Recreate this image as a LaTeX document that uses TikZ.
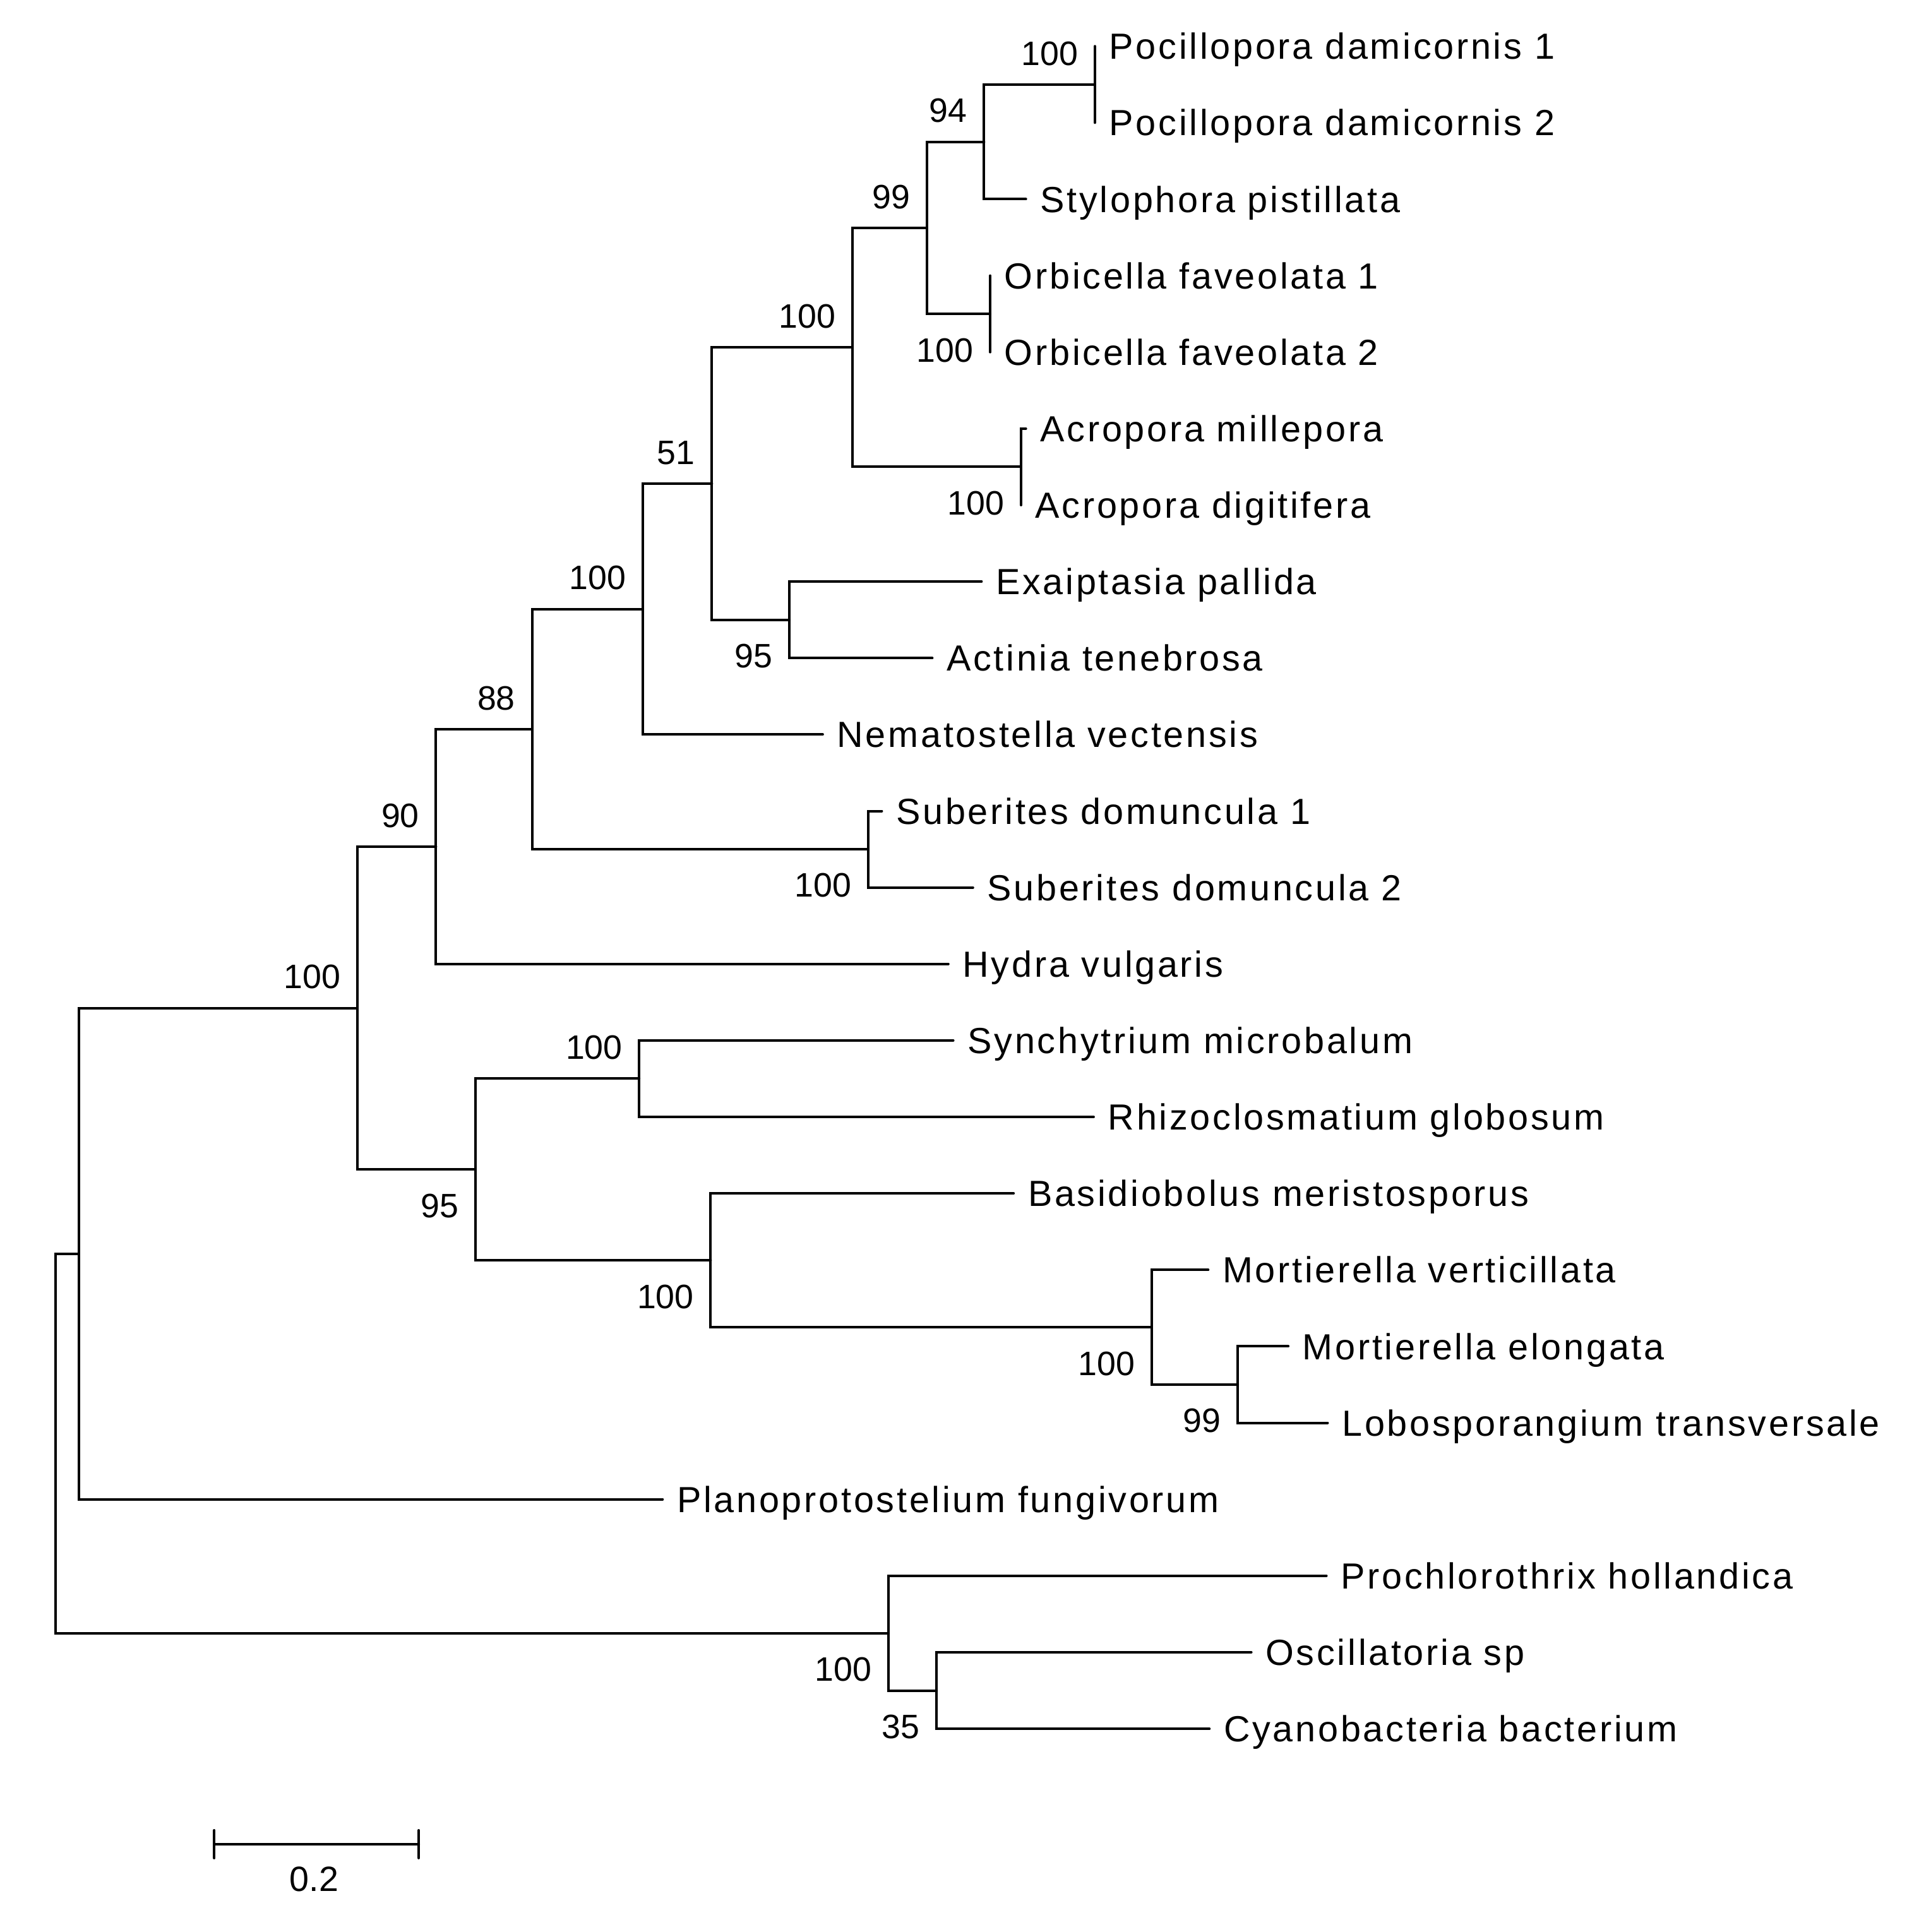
\documentclass[tikz,border=0pt]{standalone}
\usepackage{fontspec}
\setmainfont{Liberation Sans}
\newfontfamily\leaffont{Liberation Sans}[LetterSpace=6.5]

\begin{document}
\begin{tikzpicture}[x=0.01cm,y=-0.6207cm,
  branch/.style={line width=0.58pt,line cap=round},
  leaf/.style={anchor=west,inner xsep=0.11cm,inner ysep=0pt,text height=6pt,text depth=0pt,font=\leaffont\fontsize{8.39}{10}\selectfont},
  bootlab/.style={inner sep=0pt,text height=5.6pt,text depth=0pt,font=\fontsize{7.82}{9}\selectfont},
  bootup/.style={bootlab,anchor=south east,xshift=-0.13cm,yshift=0.15cm},
  bootdown/.style={bootlab,anchor=north east,xshift=-0.13cm,yshift=-0.185cm}]
\useasboundingbox (0,-0.6042) rectangle (1558,24.658);
\node[leaf] (pd1) at (889,0) {Pocillopora damicornis 1};
\node[leaf] (pd2) at (889,1) {Pocillopora damicornis 2};
\node[leaf] (sp) at (833,2) {Stylophora pistillata};
\node[leaf] (of1) at (804,3) {Orbicella faveolata 1};
\node[leaf] (of2) at (804,4) {Orbicella faveolata 2};
\node[leaf] (am) at (833,5) {Acropora millepora};
\node[leaf] (ad) at (829,6) {Acropora digitifera};
\node[leaf] (ep) at (797,7) {Exaiptasia pallida};
\node[leaf] (actin) at (757,8) {Actinia tenebrosa};
\node[leaf] (nv) at (668,9) {Nematostella vectensis};
\node[leaf] (sd1) at (716,10) {Suberites domuncula 1};
\node[leaf] (sd2) at (790,11) {Suberites domuncula 2};
\node[leaf] (hv) at (770,12) {Hydra vulgaris};
\node[leaf] (sm) at (774,13) {Synchytrium microbalum};
\node[leaf] (rg) at (888,14) {Rhizoclosmatium globosum};
\node[leaf] (bm) at (823,15) {Basidiobolus meristosporus};
\node[leaf] (mv) at (981,16) {Mortierella verticillata};
\node[leaf] (mel) at (1046,17) {Mortierella elongata};
\node[leaf] (lt) at (1078,18) {Lobosporangium transversale};
\node[leaf] (pf) at (538,19) {Planoprotostelium fungivorum};
\node[leaf] (ph) at (1077,20) {Prochlorothrix hollandica};
\node[leaf] (os) at (1016,21) {Oscillatoria sp};
\node[leaf] (cb) at (982,22) {Cyanobacteria bacterium};
\coordinate (poc) at (889,0.5);
\coordinate (n94) at (799,1.25);
\coordinate (orb) at (804,3.5);
\coordinate (n99) at (752.5,2.375);
\coordinate (acr) at (829,5.5);
\coordinate (cor) at (692,3.9375);
\coordinate (exa) at (641,7.5);
\coordinate (n51) at (578,5.719);
\coordinate (ant) at (522,7.359);
\coordinate (sub) at (705,10.5);
\coordinate (n88) at (432,8.930);
\coordinate (n90) at (354,10.465);
\coordinate (syn) at (519,13.5);
\coordinate (mel2) at (1005,17.5);
\coordinate (mort) at (935,16.75);
\coordinate (bas) at (577,15.875);
\coordinate (n95) at (386,14.6875);
\coordinate (opi) at (290,12.576);
\coordinate (amo) at (64,15.788);
\coordinate (osc) at (760.5,21.5);
\coordinate (cya) at (721.5,20.75);
\coordinate (root) at (45,18.269);
\draw[branch] (pd1.west) -| (poc) |- (pd2.west);
\draw[branch] (poc) -| (n94) |- (sp.west);
\draw[branch] (of1.west) -| (orb) |- (of2.west);
\draw[branch] (n94) -| (n99) |- (orb);
\draw[branch] (am.west) -| (acr) |- (ad.west);
\draw[branch] (n99) -| (cor) |- (acr);
\draw[branch] (ep.west) -| (exa) |- (actin.west);
\draw[branch] (cor) -| (n51) |- (exa);
\draw[branch] (n51) -| (ant) |- (nv.west);
\draw[branch] (sd1.west) -| (sub) |- (sd2.west);
\draw[branch] (ant) -| (n88) |- (sub);
\draw[branch] (n88) -| (n90) |- (hv.west);
\draw[branch] (sm.west) -| (syn) |- (rg.west);
\draw[branch] (mel.west) -| (mel2) |- (lt.west);
\draw[branch] (mv.west) -| (mort) |- (mel2);
\draw[branch] (bm.west) -| (bas) |- (mort);
\draw[branch] (syn) -| (n95) |- (bas);
\draw[branch] (n90) -| (opi) |- (n95);
\draw[branch] (opi) -| (amo) |- (pf.west);
\draw[branch] (os.west) -| (osc) |- (cb.west);
\draw[branch] (ph.west) -| (cya) |- (osc);
\draw[branch] (amo) -| (root) |- (cya);
\node[bootup] (l1) at (poc) {100};
\node[bootup] (l2) at (n94) {94};
\node[bootup] (l3) at (n99) {99};
\node[bootdown] (l4) at (orb) {100};
\node[bootdown] (l5) at (acr) {100};
\node[bootup] (l6) at (cor) {100};
\node[bootdown] (l7) at (exa) {95};
\node[bootup] (l8) at (n51) {51};
\node[bootup] (l9) at (ant) {100};
\node[bootdown] (l10) at (sub) {100};
\node[bootup] (l11) at (n88) {88};
\node[bootup] (l12) at (n90) {90};
\node[bootup] (l13) at (syn) {100};
\node[bootdown] (l14) at (mel2) {99};
\node[bootdown] (l15) at (mort) {100};
\node[bootdown] (l16) at (bas) {100};
\node[bootdown] (l17) at (n95) {95};
\node[bootup] (l18) at (opi) {100};
\node[bootdown] (l19) at (osc) {35};
\node[bootdown] (l20) at (cya) {100};
\coordinate (sbl) at (174,23.507);
\coordinate (sbr) at (340,23.507);
\draw[branch] (sbl) -- (sbr);
\draw[branch] (174,23.328) -- (174,23.691);
\draw[branch] (340,23.328) -- (340,23.691);
\node[font=\fontsize{8.1}{9}\selectfont,inner sep=0pt] (sclab) at (255,23.965) {0.2};
\end{tikzpicture}
\end{document}
